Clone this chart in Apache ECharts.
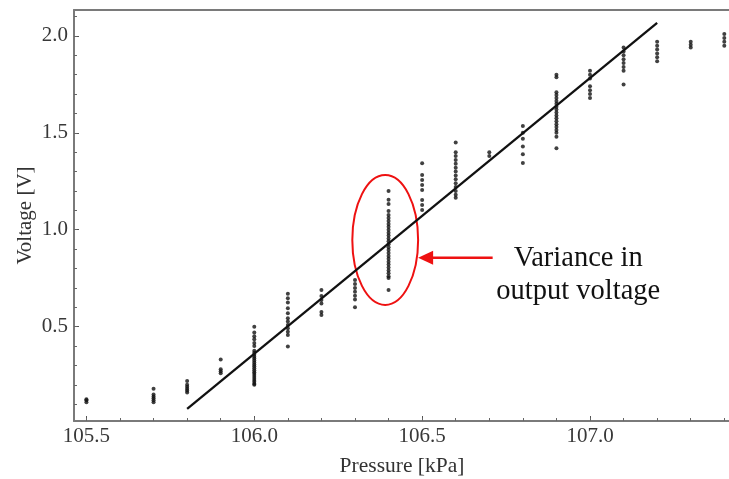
<!DOCTYPE html>
<html>
<head>
<meta charset="utf-8">
<script src="https://cdn.jsdelivr.net/npm/echarts@6/dist/echarts.min.js"></script>
<style>
html,body{margin:0;padding:0;background:#fff;}
#chart{width:729px;height:479px;}
</style>
</head>
<body>
<div id="chart"></div>
<script>
// ---- data ----
const pressureLevels = [105.5, 105.7, 105.8, 105.9, 106.0, 106.1, 106.2, 106.3, 106.4, 106.5, 106.6, 106.7, 106.8, 106.9, 107.0, 107.1, 107.2, 107.3, 107.4];
const v1055 = [0.11, 0.12, 0.125];
const v1057 = [0.11, 0.12, 0.13, 0.14, 0.15, 0.18];
const v1058 = [0.16, 0.17, 0.18, 0.19, 0.20, 0.22];
const v1059 = [0.26, 0.27, 0.28, 0.33];
const v1060 = [0.50, 0.47, 0.45, 0.435, 0.415, 0.40, 0.375, 0.365, 0.355, 0.345, 0.335, 0.325, 0.315, 0.305, 0.295, 0.285, 0.275, 0.265, 0.255, 0.245, 0.235, 0.225, 0.215, 0.205, 0.20];
const v1061 = [0.67, 0.647, 0.624, 0.595, 0.569, 0.543, 0.526, 0.509, 0.492, 0.474, 0.457, 0.397];
const v1062 = [0.689, 0.658, 0.637, 0.62, 0.575, 0.56];
const v1063 = [0.74, 0.72, 0.70, 0.68, 0.66, 0.64, 0.60];
const v1064 = [1.20, 1.155, 1.133, 1.097, 1.076, 1.06, 1.045, 1.03, 1.015, 1.00, 0.985, 0.97, 0.955, 0.94, 0.925, 0.91, 0.895, 0.88, 0.865, 0.85, 0.835, 0.82, 0.805, 0.79, 0.775, 0.76, 0.751, 0.689];
const v1065 = [1.343, 1.283, 1.257, 1.231, 1.205, 1.154, 1.128, 1.102];
const v1066 = [1.45, 1.40, 1.38, 1.36, 1.34, 1.32, 1.30, 1.28, 1.26, 1.24, 1.22, 1.20, 1.18, 1.165];
const v1067 = [1.38, 1.40];
const v1068 = [1.536, 1.50, 1.47, 1.43, 1.39, 1.345];
const v1069 = [1.80, 1.787, 1.71, 1.695, 1.68, 1.665, 1.65, 1.635, 1.62, 1.605, 1.59, 1.575, 1.56, 1.545, 1.53, 1.515, 1.50, 1.48, 1.42];
const v1070 = [1.82, 1.80, 1.78, 1.74, 1.72, 1.70, 1.68];
const v1071 = [1.94, 1.92, 1.90, 1.88, 1.86, 1.84, 1.82, 1.75];
const v1072 = [1.97, 1.95, 1.93, 1.91, 1.89, 1.87];
const v1073 = [1.94, 1.955, 1.97];
const v1074 = [1.95, 1.97, 1.99, 2.01];
const voltageGroups = [v1055, v1057, v1058, v1059, v1060, v1061, v1062, v1063, v1064, v1065, v1066, v1067, v1068, v1069, v1070, v1071, v1072, v1073, v1074];
const fitLine = [[105.8, 0.075], [107.2, 2.067]];
const xTickLabels = [105.5, 106.0, 106.5, 107.0];
const xMinorTicks = [105.5, 105.6, 105.7, 105.8, 105.9, 106.0, 106.1, 106.2, 106.3, 106.4, 106.5, 106.6, 106.7, 106.8, 106.9, 107.0, 107.1, 107.2, 107.3, 107.4];
const yTickLabels = [0.5, 1.0, 1.5, 2.0];
const yMinorTicks = [0.1, 0.2, 0.3, 0.4, 0.5, 0.6, 0.7, 0.8, 0.9, 1.0, 1.1, 1.2, 1.3, 1.4, 1.5, 1.6, 1.7, 1.8, 1.9, 2.0, 2.1];
const annotationLines = ['Variance in', 'output voltage'];

const scatterData = [];
pressureLevels.forEach((p, i) => voltageGroups[i].forEach(v => scatterData.push([p, v])));

const serif = '"Liberation Serif", "DejaVu Serif", serif';
const frameColor = '#7a7a7a';
const X_MIN = 105.463, X_MAX = 107.417, Y_MIN = 0.013, Y_MAX = 2.134;

const chart = echarts.init(document.getElementById('chart'), null, {renderer: 'canvas'});
const option = {
  animation: false,
  backgroundColor: '#ffffff',
  grid: {left: 74, top: 10, right: -1, bottom: 58, containLabel: false, outerBoundsMode: 'none'},
  xAxis: [
    {
      type: 'value', min: X_MIN, max: X_MAX, position: 'bottom',
      name: 'Pressure [kPa]', nameLocation: 'middle', nameGap: 34, nameMoveOverlap: false,
      nameTextStyle: {fontFamily: serif, fontSize: 21.5, color: '#333'},
      axisLine: {show: true, lineStyle: {color: frameColor, width: 2}},
      axisTick: {show: true, inside: true, length: 5, customValues: xTickLabels, lineStyle: {color: '#555', width: 1}},
      axisLabel: {show: true, customValues: xTickLabels, margin: 5, fontFamily: serif, fontSize: 21, color: '#383838',
        formatter: v => Number(v).toFixed(1)},
      splitLine: {show: false}
    },
    {
      type: 'value', min: X_MIN, max: X_MAX, position: 'bottom',
      axisLine: {show: false},
      axisTick: {show: true, inside: true, length: 3, customValues: xMinorTicks, lineStyle: {color: '#666', width: 1}},
      axisLabel: {show: false},
      splitLine: {show: false}
    },
    {
      type: 'value', min: X_MIN, max: X_MAX, position: 'top',
      axisLine: {show: true, lineStyle: {color: frameColor, width: 2}},
      axisTick: {show: false}, axisLabel: {show: false}, splitLine: {show: false}
    }
  ],
  yAxis: [
    {
      type: 'value', min: Y_MIN, max: Y_MAX, position: 'left',
      name: 'Voltage [V]', nameLocation: 'middle', nameGap: 38, nameRotate: 90, nameMoveOverlap: false,
      nameTextStyle: {fontFamily: serif, fontSize: 21, color: '#333'},
      axisLine: {show: true, lineStyle: {color: frameColor, width: 2}},
      axisTick: {show: true, inside: true, length: 5, customValues: yTickLabels, lineStyle: {color: '#555', width: 1}},
      axisLabel: {show: true, customValues: yTickLabels, margin: 6, fontFamily: serif, fontSize: 21, color: '#383838',
        formatter: v => Number(v).toFixed(1)},
      splitLine: {show: false}
    },
    {
      type: 'value', min: Y_MIN, max: Y_MAX, position: 'left',
      axisLine: {show: false},
      axisTick: {show: true, inside: true, length: 3, customValues: yMinorTicks, lineStyle: {color: '#666', width: 1}},
      axisLabel: {show: false},
      splitLine: {show: false}
    }
  ],
  series: [
    {
      type: 'scatter', xAxisIndex: 0, yAxisIndex: 0,
      data: scatterData, symbol: 'circle', symbolSize: 4,
      itemStyle: {color: '#111'}, silent: true
    },
    {
      type: 'line', xAxisIndex: 0, yAxisIndex: 0,
      data: fitLine, showSymbol: false, symbol: 'none',
      lineStyle: {color: '#111', width: 2.3}, silent: true
    }
  ]
};
chart.setOption(option);

// ---- annotation placed through data coordinates ----
const toPx = (x, y) => chart.convertToPixel({xAxisIndex: 0, yAxisIndex: 0}, [x, y]);
const c = toPx(106.39, 0.947);
const e1 = toPx(106.39 + 0.098, 0.947 - 0.335);
const rx = e1[0] - c[0], ry = e1[1] - c[1];
const aTail = toPx(106.71, 0.855);
const aTip = toPx(106.488, 0.855);
const t1 = toPx(106.965, 0.85);
const t2 = toPx(106.965, 0.68);
chart.setOption({
  graphic: [
    {type: 'ellipse', shape: {cx: c[0], cy: c[1], rx: rx, ry: ry}, style: {fill: 'none', stroke: '#ee1111', lineWidth: 2}, silent: true},
    {type: 'line', shape: {x1: aTail[0], y1: aTail[1], x2: aTip[0] + 13, y2: aTip[1]}, style: {stroke: '#ee1111', lineWidth: 2.5}, silent: true},
    {type: 'polygon', shape: {points: [[aTip[0], aTip[1]], [aTip[0] + 15, aTip[1] - 7], [aTip[0] + 15, aTip[1] + 7]]}, style: {fill: '#ee1111'}, silent: true},
    {type: 'text', x: t1[0], y: t1[1], style: {text: annotationLines[0], fontFamily: serif, fontSize: 28.5, fill: '#111', align: 'center', verticalAlign: 'middle'}, silent: true},
    {type: 'text', x: t2[0], y: t2[1], style: {text: annotationLines[1], fontFamily: serif, fontSize: 28.5, fill: '#111', align: 'center', verticalAlign: 'middle'}, silent: true}
  ]
});
</script>
</body>
</html>
